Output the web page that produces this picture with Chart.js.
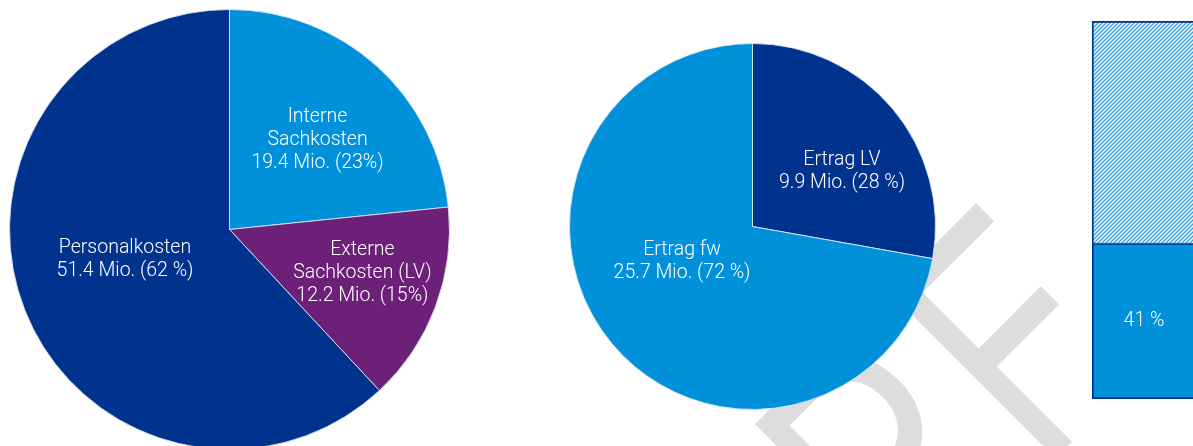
<!DOCTYPE html>
<html><head><meta charset="utf-8">
<script src="https://cdn.jsdelivr.net/npm/chart.js@4"></script>
<style>
html,body{margin:0;padding:0;background:#fff;}
body{width:1193px;height:446px;overflow:hidden;position:relative;}
.box{position:absolute;}
#wm{position:absolute;left:0;top:0;}
</style></head><body>
<canvas id="wm" width="1193" height="446"></canvas>
<div class="box" style="left:9px;top:9px;width:441px;height:441px"><canvas id="c1"></canvas></div>
<div class="box" style="left:569px;top:43px;width:367px;height:367px"><canvas id="c2"></canvas></div>
<div class="box" style="left:1092px;top:21px;width:104px;height:378px"><canvas id="c3"></canvas></div>
<script>
// ---- data ----
const costCategories = ['Interne Sachkosten', 'Externe Sachkosten (LV)', 'Personalkosten'];
const costValues = [19.4, 12.2, 51.4];
const costLabels = [
  ['Interne', 'Sachkosten', '19.4 Mio. (23%)'],
  ['Externe', 'Sachkosten (LV)', '12.2 Mio. (15%)'],
  ['Personalkosten', '51.4 Mio. (62 %)']
];
const revenueCategories = ['Ertrag LV', 'Ertrag fw'];
const revenueValues = [9.9, 25.7];
const revenueLabels = [
  ['Ertrag LV', '9.9 Mio. (28 %)'],
  ['Ertrag fw', '25.7 Mio. (72 %)']
];
const barCategories = [''];
const barLowerValues = [41];
const barUpperValues = [59];
const barLowerLabels = [['41 %']];
const watermarkText = 'ENTWURF';

// ---- styles ----
const DARK = '#00338D', MID = '#0091DA', PURPLE = '#6D2077';
const LABEL_FONT = '300 19.5px Roboto, "Liberation Sans", Arial, sans-serif';

// watermark (decorative, rotated text behind the charts)
(function(){
  const g = document.getElementById('wm').getContext('2d');
  g.font = '300 320px Roboto, "Liberation Sans", sans-serif';
  const sx = 0.83, lw = 9;
  const lastTwo = watermarkText.slice(-2);           // "RF"
  const head = watermarkText.slice(0, -2);            // "ENTWU"
  const capTop = 831.3;
  const leftEdges = [231, 419];                        // R, F ink left edges (rotated frame)
  const asc = g.measureText('F').actualBoundingBoxAscent;
  const oy = capTop + asc + lw / 2;
  g.save();
  g.rotate(-Math.PI / 4);
  g.fillStyle = '#dddddd'; g.strokeStyle = '#dddddd';
  g.lineWidth = lw; g.lineJoin = 'miter';
  g.textBaseline = 'alphabetic'; g.textAlign = 'left';
  [...lastTwo].forEach((ch, i) => {
    const m = g.measureText(ch);
    g.save();
    g.translate(leftEdges[i] + lw / 2 * sx, 0);
    g.scale(sx, 1);
    g.fillText(ch, m.actualBoundingBoxLeft, oy);
    g.strokeText(ch, m.actualBoundingBoxLeft, oy);
    g.restore();
  });
  g.save();
  g.translate(leftEdges[0] - 30, 0);
  g.scale(sx, 1);
  g.textAlign = 'right';
  g.fillText(head, 0, oy); g.strokeText(head, 0, oy);
  g.restore();
  g.restore();
})();

const sliceLabels = {
  id: 'sliceLabels',
  afterDatasetsDraw(chart, args, opts) {
    const ctx = chart.ctx;
    ctx.save();
    ctx.font = opts.font; ctx.fillStyle = opts.color;
    ctx.textAlign = 'center'; ctx.textBaseline = 'middle';
    (opts.items || []).forEach(it => {
      const el = chart.getDatasetMeta(it.dataset).data[it.index];
      let cx, cy;
      if (el.outerRadius !== undefined) {
        cx = el.x + it.fx * el.outerRadius;
        cy = el.y + it.fy * el.outerRadius;
      } else {
        cx = el.x; cy = (el.y + el.base) / 2;
      }
      const n = it.lines.length;
      it.lines.forEach((ln, k) => {
        ctx.fillText(ln, cx, cy + (k - (n - 1) / 2) * opts.lineHeight);
      });
    });
    ctx.restore();
  }
};

const common = {
  responsive: true, maintainAspectRatio: false, animation: false,
  events: [],
  layout: { padding: 0 },
};

new Chart(document.getElementById('c1'), {
  type: 'pie',
  data: { labels: costCategories, datasets: [{
    data: costValues,
    backgroundColor: [MID, PURPLE, DARK],
    borderColor: 'rgba(225,235,248,0.85)', borderWidth: 1
  }]},
  options: Object.assign({}, common, {
    plugins: {
      legend: { display: false }, tooltip: { enabled: false },
      sliceLabels: {
        font: LABEL_FONT, color: '#ffffff', lineHeight: 23,
        items: [
          { dataset: 0, index: 0, fx: 0.40, fy: -0.405, lines: costLabels[0] },
          { dataset: 0, index: 1, fx: 0.604, fy: 0.198, lines: costLabels[1] },
          { dataset: 0, index: 2, fx: -0.475, fy: 0.138, lines: costLabels[2] }
        ]
      }
    }
  }),
  plugins: [sliceLabels]
});

new Chart(document.getElementById('c2'), {
  type: 'pie',
  data: { labels: revenueCategories, datasets: [{
    data: revenueValues,
    backgroundColor: [DARK, MID],
    borderColor: 'rgba(225,235,248,0.85)', borderWidth: 1
  }]},
  options: Object.assign({}, common, {
    plugins: {
      legend: { display: false }, tooltip: { enabled: false },
      sliceLabels: {
        font: LABEL_FONT, color: '#ffffff', lineHeight: 23,
        items: [
          { dataset: 0, index: 0, fx: 0.489, fy: -0.298, lines: revenueLabels[0] },
          { dataset: 0, index: 1, fx: -0.385, fy: 0.194, lines: revenueLabels[1] }
        ]
      }
    }
  }),
  plugins: [sliceLabels]
});

// hatch pattern
const c3 = document.getElementById('c3');
function makeHatch() {
  const t = document.createElement('canvas'); t.width = 4; t.height = 4;
  const g = t.getContext('2d');
  g.fillStyle = '#ffffff'; g.fillRect(0, 0, 4, 4);
  g.strokeStyle = '#2f9fe0'; g.lineWidth = 1.4;
  g.beginPath();
  g.moveTo(-1, 5); g.lineTo(5, -1);
  g.moveTo(-1, 1); g.lineTo(1, -1);
  g.moveTo(3, 5); g.lineTo(5, 3);
  g.stroke();
  return c3.getContext('2d').createPattern(t, 'repeat');
}

new Chart(c3, {
  type: 'bar',
  data: { labels: barCategories, datasets: [
    { data: barLowerValues, backgroundColor: MID, borderColor: DARK,
      borderWidth: { top: 1, left: 2, right: 2, bottom: 2 }, borderSkipped: false,
      barPercentage: 1, categoryPercentage: 1 },
    { data: barUpperValues, backgroundColor: makeHatch(), borderColor: DARK,
      borderWidth: { top: 2, left: 2, right: 2, bottom: 1 }, borderSkipped: false,
      barPercentage: 1, categoryPercentage: 1 }
  ]},
  options: Object.assign({}, common, {
    scales: {
      x: { display: false, stacked: true },
      y: { display: false, stacked: true, min: 0, max: 100 }
    },
    plugins: {
      legend: { display: false }, tooltip: { enabled: false },
      sliceLabels: {
        font: LABEL_FONT, color: '#ffffff', lineHeight: 23,
        items: [ { dataset: 0, index: 0, lines: barLowerLabels[0] } ]
      }
    }
  }),
  plugins: [sliceLabels]
});
</script>
</body></html>
